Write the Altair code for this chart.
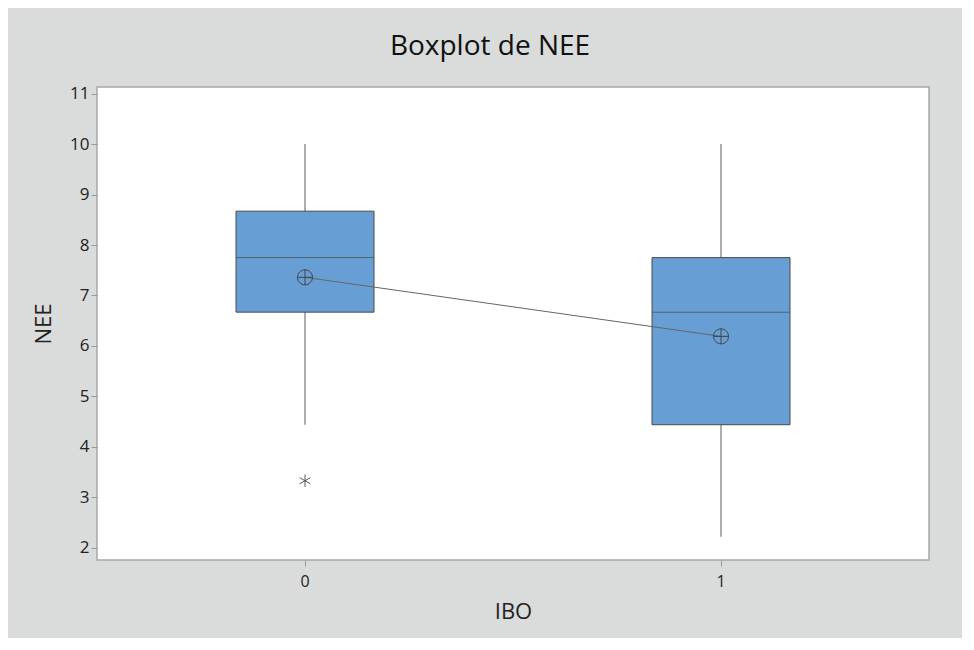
import altair as alt
import pandas as pd

ibo = ["0", "1"]
whisker_low = [4.44, 2.22]
q1 = [6.67, 4.44]
median = [7.75, 6.67]
q3 = [8.67, 7.75]
whisker_high = [10.0, 10.0]
mean = [7.36, 6.19]

outlier_ibo = ["0"]
outlier_val = [3.33]

df = pd.DataFrame({
    "IBO": ibo, "lo": whisker_low, "q1": q1, "med": median,
    "q3": q3, "hi": whisker_high, "mean": mean,
})
out_df = pd.DataFrame({"IBO": outlier_ibo, "NEE": outlier_val})

FONT = "Open Sans"
xenc = alt.X("IBO:N", scale=alt.Scale(type="band", domain=ibo, paddingInner=0, paddingOuter=0),
             axis=alt.Axis(title="IBO", labelAngle=0, domain=False, tickSize=6, tickColor="#999999",
                           labelFontSize=16, titleFontSize=22, labelPadding=7, titlePadding=12,
                           labelColor="#222222", titleColor="#222222", labelFont=FONT, titleFont=FONT,
                           titleFontWeight="normal"))
yscale = alt.Scale(domain=[1.76, 11.13], nice=False, zero=False)
yaxis = alt.Axis(title="NEE", values=list(range(2, 12)), grid=False, domain=False, tickSize=6,
                 tickColor="#999999", labelFontSize=17, titleFontSize=22, labelPadding=2,
                 titlePadding=14, labelColor="#222222", titleColor="#222222", labelFont=FONT,
                 titleFont=FONT, titleFontWeight="normal")

base = alt.Chart(df)

whisk = base.mark_rule(color="#5a5a5a", strokeWidth=1).encode(
    x=xenc, y=alt.Y("lo:Q", scale=yscale, axis=yaxis), y2="hi:Q")
box = base.mark_bar(size=138, color="#679ED4", stroke="#4a4a4a", strokeWidth=1).encode(
    x=xenc, y=alt.Y("q1:Q", scale=yscale), y2="q3:Q")
med = base.mark_tick(size=138, thickness=1, color="#4a4a4a", orient="horizontal").encode(
    x=xenc, y=alt.Y("med:Q", scale=yscale))
line = base.mark_line(color="#666666", strokeWidth=1).encode(
    x=xenc, y=alt.Y("mean:Q", scale=yscale))
circ_cross = "M-1,0A1,1 0 1,1 1,0A1,1 0 1,1 -1,0ZM-1,0L1,0M0,-1L0,1"
pts = base.mark_point(shape=circ_cross, size=225, filled=False, stroke="#444444",
                      strokeWidth=1, opacity=1).encode(
    x=xenc, y=alt.Y("mean:Q", scale=yscale))
aster = "M0,-1L0,1M-0.87,-0.5L0.87,0.5M-0.87,0.5L0.87,-0.5"
outl = alt.Chart(out_df).mark_point(shape=aster, size=150, filled=False, stroke="#555555",
                                    strokeWidth=1, opacity=1).encode(
    x=xenc, y=alt.Y("NEE:Q", scale=yscale))

chart = alt.layer(whisk, box, med, line, pts, outl).properties(
    width=832, height=473,
    title=alt.TitleParams("Boxplot de NEE", fontSize=28, font=FONT, fontWeight="normal",
                          color="#111111", anchor="middle", offset=24, dx=-23),
    autosize=alt.AutoSizeParams(type="none"),
    padding={"left": 89, "top": 79, "right": 33, "bottom": 78},
    background="#dadbdb",
).configure_view(stroke="#a8a8a8", strokeWidth=1.5, fill="white")

chart.save("out.html", embed_options={"renderer": "svg", "actions": False})
